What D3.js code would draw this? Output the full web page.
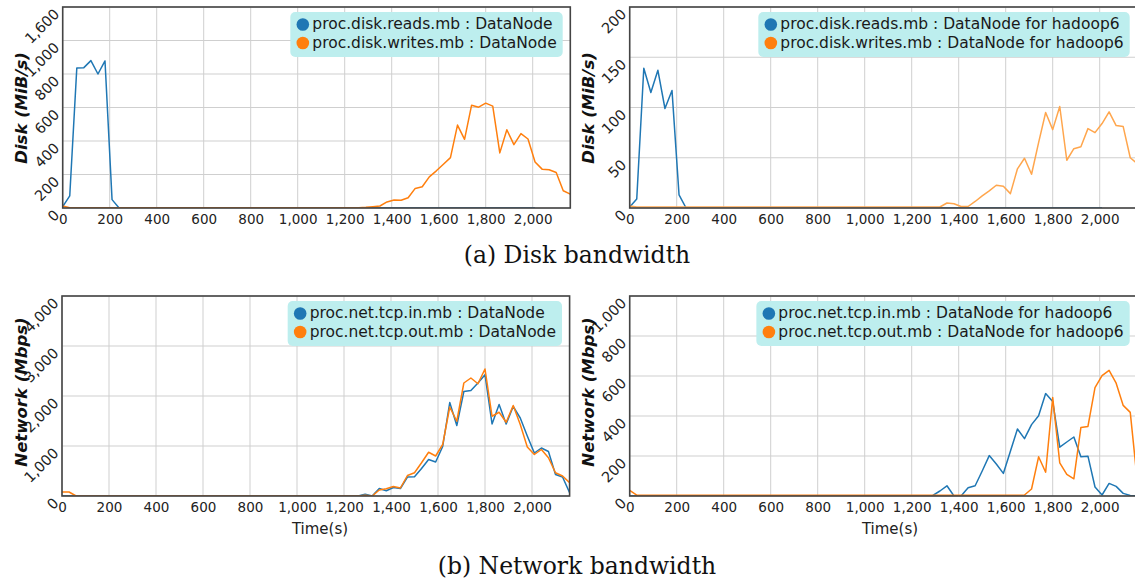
<!DOCTYPE html>
<html><head><meta charset="utf-8">
<script src="https://cdn.jsdelivr.net/npm/d3@7"></script>
<style>
body{margin:0;background:#fff;}
svg{display:block;}
</style></head><body>
<svg id="c" width="1135" height="582"></svg>
<script>
// ---- data ----
const times = [0,30,60,90,120,150,180,210,240,270,300,330,360,390,420,450,480,510,540,570,600,630,660,690,720,750,780,810,840,870,900,930,960,990,1020,1050,1080,1110,1140,1170,1200,1230,1260,1290,1320,1350,1380,1410,1440,1470,1500,1530,1560,1590,1620,1650,1680,1710,1740,1770,1800,1830,1860,1890,1920,1950,1980,2010,2040,2070,2100,2130,2160];

const diskReads = [8,72,836,838,880,800,878,50,0,
 0,0,0,0,0,0,0,0,0,0,0,0,0,0,0,0,0,0,0,0,0,0,0,0,0,0,0,0,0,0,0,0,0,0,0,0,0,0,0,0,0,0,0,0,0,0,0,0,0,0,0,0,0,0,0,0,0,0,0];
const diskWrites = [12,
 2,2,2,2,2,2,2,2,2,2,2,2,2,2,2,2,2,2,2,2,2,2,2,2,2,2,2,2,2,2,2,2,2,2,2,2,2,2,2,2,2,2,
 4,8,
 12,36,48,46,61,117,127,186,222,261,301,495,410,614,602,626,608,329,467,378,444,412,275,232,228,212,103,83];

const diskReads6 = [1,9,139,115,137,99,117,13,0,
 0,0,0,0,0,0,0,0,0,0,0,0,0,0,0,0,0,0,0,0,0,0,0,0,0,0,0,0,0,0,0,0,0,0,0,0,0,0,0,0,0,0,0,0,0,0,0,0,0,0,0,0,0,0,0,0,0,0,0];
const diskWrites6 = [2,
 1,1,1,1,1,1,1,1,1,1,1,1,1,1,1,1,1,1,1,1,1,1,1,1,1,1,1,1,1,1,1,1,1,1,1,1,1,1,1,1,1,1,1,1,
 5,4.3,1.5,1.5,6.5,12,17,22.6,21.6,14.3,39,49.5,33.6,65,95,78,101,47.5,59,61,79,75,84,95.7,82,81,50,44];

const netIn = [0,0,0,0,0,0,0,0,0,0,0,0,0,0,0,0,0,0,0,0,0,0,0,0,0,0,0,0,0,0,0,0,0,0,0,0,0,0,0,0,0,0,0,
 35,0,150,105,170,150,380,385,550,730,680,990,1870,1410,2090,2110,2260,2425,1440,1830,1440,1790,1560,1200,860,960,890,430,380,65];
const netOut = [80,80,
 0,0,0,0,0,0,0,0,0,0,0,0,0,0,0,0,0,0,0,0,0,0,0,0,0,0,0,0,0,0,0,0,0,0,0,0,0,0,0,0,0,
 15,0,120,145,190,160,410,465,665,875,800,1030,1780,1495,2260,2360,2245,2540,1595,1675,1475,1810,1430,980,830,930,765,465,400,265];

const netIn6 = [0,0,0,0,0,0,0,0,0,0,0,0,0,0,0,0,0,0,0,0,0,0,0,0,0,0,0,0,0,0,0,0,0,0,0,0,0,0,0,0,0,0,0,
 3,25,51,0,0,41,51,125,202,160,113,224,335,287,357,401,512,473,244,270,295,196,199,45,5,63,48,13,3,0];
const netOut6 = [28,
 4,4,4,4,4,4,4,4,4,4,4,4,4,4,4,4,4,4,4,4,4,4,4,4,4,4,4,4,4,4,4,4,4,4,4,4,4,4,4,4,4,4,4,4,4,4,4,4,4,4,4,4,4,4,4,
 5,35,196,119,492,166,108,86,343,348,542,602,628,564,453,418,75];

const xTicks = [0,200,400,600,800,1000,1200,1400,1600,1800,2000];
const xTickLabels = ["0","200","400","600","800","1,000","1,200","1,400","1,600","1,800","2,000"];

const diskYTicks = [0,200,400,600,800,1000,1200];
const diskYLabels = ["0","200","400","600","800","1,000","1,600"];
const disk6YTicks = [0,50,100,150,200];
const disk6YLabels = ["0","50","100","150","200"];
const netYTicks = [0,1000,2000,3000,4000];
const netYLabels = ["0","1,000","2,000","3,000","4,000"];
const net6YTicks = [0,200,400,600,800,1000];
const net6YLabels = ["0","200","400","600","800","1,000"];

const legendDisk = ["proc.disk.reads.mb : DataNode","proc.disk.writes.mb : DataNode"];
const legendDisk6 = ["proc.disk.reads.mb : DataNode for hadoop6","proc.disk.writes.mb : DataNode for hadoop6"];
const legendNet = ["proc.net.tcp.in.mb : DataNode","proc.net.tcp.out.mb : DataNode"];
const legendNet6 = ["proc.net.tcp.in.mb : DataNode for hadoop6","proc.net.tcp.out.mb : DataNode for hadoop6"];

const captions = ["(a) Disk bandwidth","(b) Network bandwidth"];

// ---- drawing ----
const svg = d3.select("#c");
svg.append("rect").attr("width",1135).attr("height",582).attr("fill","#fff");
const BLUE = "#1f77b4", ORANGE = "#ff7f0e", ORANGE_L = "#ffa64d";
const PW = 507.6;

const panels = [
  {id:0,left:62.7,top:7,bottom:208,yMax:1200,yT:diskYTicks,yL:diskYLabels,title:"Disk (MiB/s)",titleY:108,
   series:[[diskReads,BLUE],[diskWrites,ORANGE]],legend:legendDisk,xTitle:null},
  {id:1,left:629.7,top:7,bottom:208,yMax:200,yT:disk6YTicks,yL:disk6YLabels,title:"Disk (MiB/s)",titleY:108,
   series:[[diskReads6,BLUE],[diskWrites6,ORANGE_L]],legend:legendDisk6,xTitle:null},
  {id:2,left:62,top:296,bottom:496,yMax:4000,yT:netYTicks,yL:netYLabels,title:"Network (Mbps)",titleY:392,
   series:[[netIn,BLUE],[netOut,ORANGE]],legend:legendNet,xTitle:320},
  {id:3,left:629.7,top:296,bottom:496,yMax:1000,yT:net6YTicks,yL:net6YLabels,title:"Network (Mbps)",titleY:392,
   series:[[netIn6,BLUE],[netOut6,ORANGE]],legend:legendNet6,xTitle:890}
];

panels.forEach(p => {
  const x = d3.scaleLinear().domain([0,2160]).range([p.left, p.left+PW]);
  const y = d3.scaleLinear().domain([0,p.yMax]).range([p.bottom, p.top]);
  const g = svg.append("g");
  const clipId = "clip"+p.id;
  svg.append("clipPath").attr("id",clipId).append("rect")
    .attr("x",p.left).attr("y",p.top).attr("width",PW).attr("height",p.bottom-p.top);

  // grid
  g.append("g").selectAll("line").data(xTicks).join("line")
    .attr("x1",d=>x(d)).attr("x2",d=>x(d)).attr("y1",p.top).attr("y2",p.bottom)
    .attr("stroke","#cfcfcf").attr("stroke-width",1);
  g.append("g").selectAll("line").data(p.yT).join("line")
    .attr("x1",p.left).attr("x2",p.left+PW).attr("y1",d=>y(d)).attr("y2",d=>y(d))
    .attr("stroke","#cfcfcf").attr("stroke-width",1);

  // lines
  const line = d3.line().x((d,i)=>x(times[i])).y(d=>y(d));
  p.series.forEach(([vals,col]) => {
    g.append("path").datum(vals).attr("d",line).attr("fill","none")
      .attr("stroke",col).attr("stroke-width",1.5).attr("stroke-linejoin","round")
      .attr("clip-path","url(#"+clipId+")");
  });

  // frame
  g.append("rect").attr("x",p.left).attr("y",p.top).attr("width",PW).attr("height",p.bottom-p.top)
    .attr("fill","none").attr("stroke","#444").attr("stroke-width",1.6);

  // x axis labels
  const xa = d3.axisBottom(x).tickValues(xTicks).tickFormat((d,i)=>xTickLabels[i]).tickSize(0).tickPadding(0);
  const xg = g.append("g").attr("transform",`translate(0,${p.bottom})`).call(xa);
  xg.select(".domain").remove();
  xg.selectAll("text").attr("dy",null).attr("y",16).attr("font-family","DejaVu Sans").attr("font-size","13.5px").attr("fill","#222");

  // y axis labels (rotated)
  const ya = d3.axisLeft(y).tickValues(p.yT).tickFormat((d,i)=>p.yL[i]).tickSize(0).tickPadding(0);
  const yg = g.append("g").attr("transform",`translate(${p.left},0)`).call(ya);
  yg.select(".domain").remove();
  yg.selectAll(".tick text")
    .attr("x",null).attr("dy",null)
    .attr("text-anchor","end").attr("dominant-baseline","central")
    .attr("transform","translate(-6,4) rotate(-45)")
    .attr("font-family","DejaVu Sans").attr("font-size","14.5px").attr("fill","#222");

  // y title
  g.append("text").attr("transform",`translate(${p.left-41},${p.titleY}) rotate(-90)`)
    .attr("text-anchor","middle").attr("dominant-baseline","central")
    .attr("font-family","DejaVu Sans").attr("font-weight","bold").attr("font-style","italic")
    .attr("font-size","16.5px").attr("fill","#111").text(p.title);

  if (p.xTitle !== null) {
    g.append("text").attr("x",p.xTitle).attr("y",534).attr("text-anchor","middle")
      .attr("font-family","DejaVu Sans").attr("font-size","15px").attr("fill","#222").text("Time(s)");
  }

  // legend
  const lg = g.append("g");
  const boxTop = p.top + 5;
  const right = p.left + 500;
  const rect = lg.append("rect");
  const texts = lg.selectAll("text").data(p.legend).join("text")
    .attr("y",(d,i)=>boxTop+17+i*18.5)
    .attr("font-family","DejaVu Sans").attr("font-size","15.5px").attr("fill","#1a1a1a").text(d=>d);
  let tw = 0; texts.each(function(){ tw = Math.max(tw, this.getComputedTextLength()); });
  const boxLeft = right - (22 + tw + 6);
  texts.attr("x", boxLeft + 22);
  rect.attr("x",boxLeft).attr("y",boxTop).attr("width",right-boxLeft).attr("height",45)
    .attr("rx",5).attr("fill","#bdeeee");
  lg.selectAll("circle").data(p.series).join("circle")
    .attr("cx",boxLeft+12.5).attr("cy",(d,i)=>boxTop+12.5+i*18.5).attr("r",6.3)
    .attr("fill",d=>d[1]===ORANGE_L?ORANGE:d[1]);
});

// captions
svg.selectAll("text.cap").data(captions).join("text").attr("class","cap")
  .attr("x",577).attr("y",(d,i)=>i===0?263:574).attr("text-anchor","middle")
  .attr("font-family","DejaVu Serif").attr("font-size","23.5px").attr("fill","#111").text(d=>d);
</script>
</body></html>
